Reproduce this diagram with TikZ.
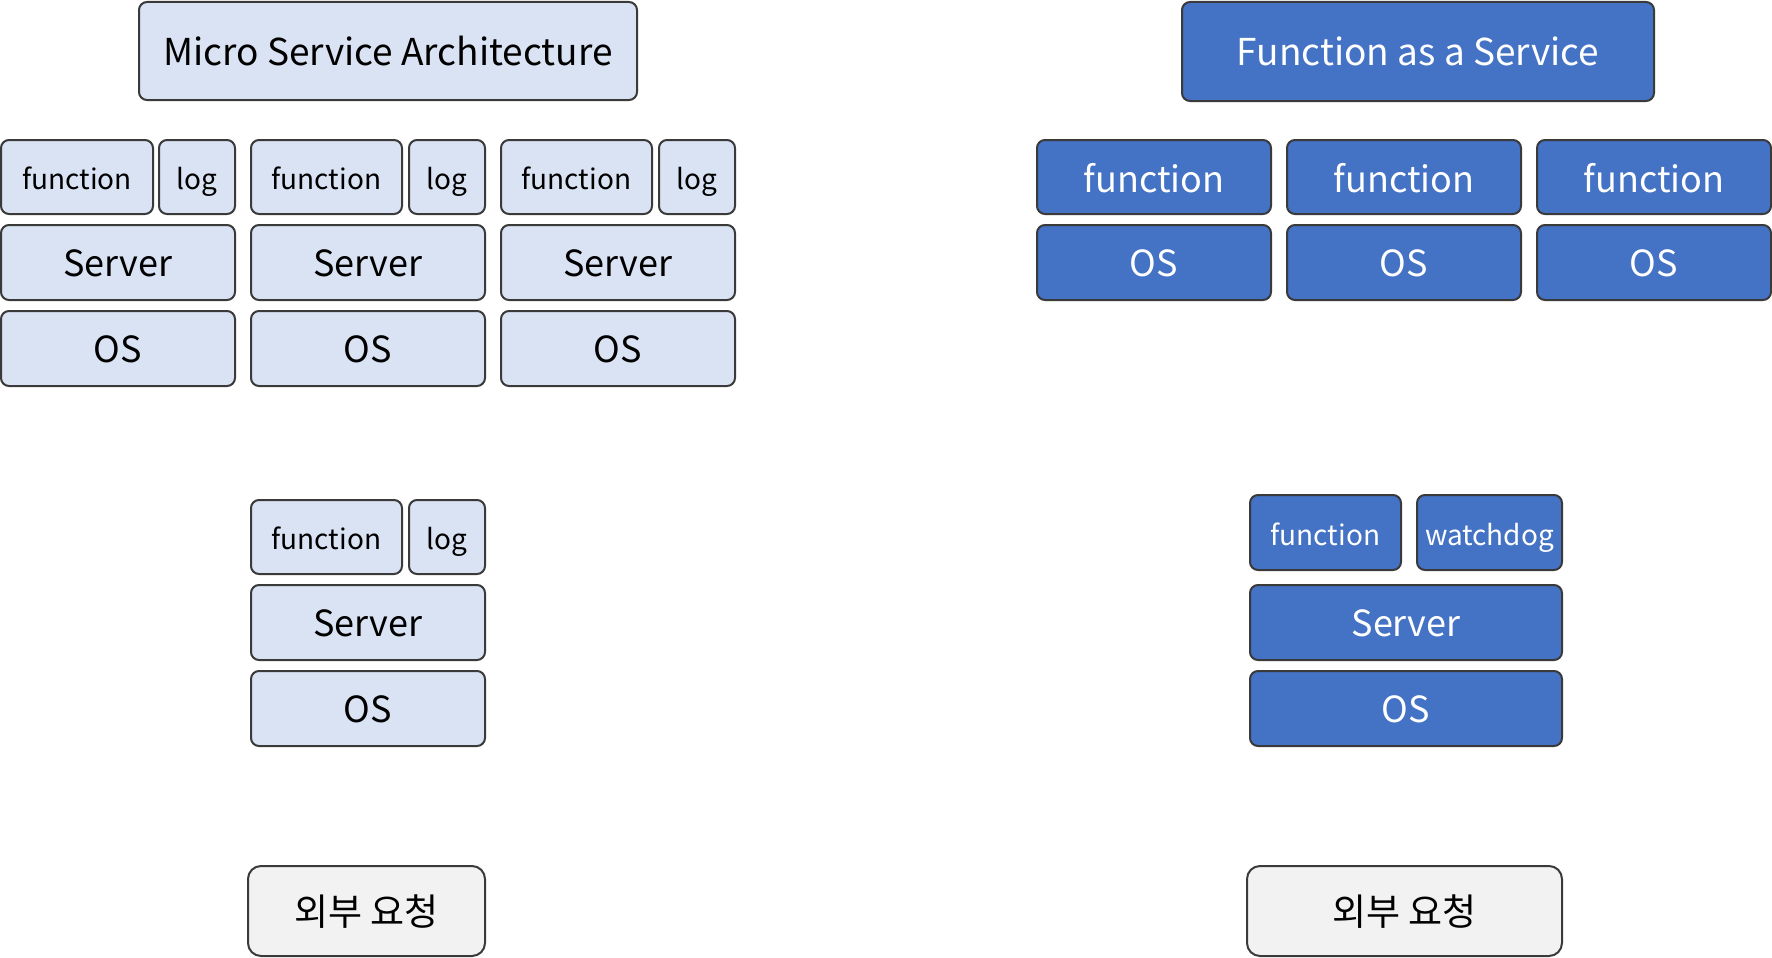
\documentclass[tikz,border=0pt]{standalone}
\usepackage{fontspec}
\setmainfont{Noto Sans CJK KR}
\begin{document}
\begin{tikzpicture}[x=1pt,y=-1pt,
  box/.style={draw=edge,line width=2pt,rounded corners=8pt,inner sep=0pt,outer sep=0pt,
    align=center,text depth=0pt},
  light/.style={box,fill=lightblue,text=black},
  dark/.style={box,fill=darkblue,text=white},
  grey/.style={box,fill=greyfill,text=black,rounded corners=13pt},
  bigtxt/.style={font=\fontsize{36}{38}\selectfont,text height=28.5pt},
  funtxt/.style={font=\fontsize{36}{38}\selectfont,text height=30pt},
  smalltxt/.style={font=\fontsize{28}{30}\selectfont,text height=25pt},
  titletxt/.style={font=\fontsize{37}{39}\selectfont,text height=29pt},
  kortxt/.style={font=\fontsize{37}{39}\selectfont,text height=28pt}]
\definecolor{edge}{HTML}{3A3A3A}
\definecolor{lightblue}{HTML}{DAE3F3}
\definecolor{darkblue}{HTML}{4472C4}
\definecolor{greyfill}{HTML}{F2F2F2}
\useasboundingbox (0,0) rectangle (1772,958);
% box from corner (x1,y1) to corner (x2,y2)
\newcommand\bx[7]{%
  \node[#6,minimum width={(#4-#2)*1pt},minimum height={(#5-#3)*1pt}]
    (#1) at ({(#2+#4)/2},{(#3+#5)/2}) {#7};}

% Micro Service Architecture
\bx{msa}{139}{2}{637}{100}{light,titletxt}{Micro Service Architecture}
\bx{mfa}{1}{140}{153}{214}{light,smalltxt}{function}
\bx{mla}{159}{140}{235}{214}{light,smalltxt}{log}
\bx{msa1}{1}{225}{235}{300}{light,bigtxt}{Server}
\bx{moa}{1}{311}{235}{386}{light,bigtxt}{OS}
\bx{mfb}{251}{140}{402}{214}{light,smalltxt}{function}
\bx{mlb}{409}{140}{485}{214}{light,smalltxt}{log}
\bx{msb}{251}{225}{485}{300}{light,bigtxt}{Server}
\bx{mob}{251}{311}{485}{386}{light,bigtxt}{OS}
\bx{mfc}{501}{140}{652}{214}{light,smalltxt}{function}
\bx{mlc}{659}{140}{735}{214}{light,smalltxt}{log}
\bx{msc}{501}{225}{735}{300}{light,bigtxt}{Server}
\bx{moc}{501}{311}{735}{386}{light,bigtxt}{OS}

\bx{mfd}{251}{500}{402}{574}{light,smalltxt}{function}
\bx{mld}{409}{500}{485}{574}{light,smalltxt}{log}
\bx{msd}{251}{585}{485}{660}{light,bigtxt}{Server}
\bx{mod}{251}{671}{485}{746}{light,bigtxt}{OS}
\bx{mreq}{248}{866}{485}{956}{grey,kortxt}{외부 요청}

% Function as a Service
\bx{faas}{1182}{2}{1654}{101}{dark,titletxt}{Function as a Service}
\bx{ffa}{1037}{140}{1271}{214}{dark,funtxt}{function}
\bx{foa}{1037}{225}{1271}{300}{dark,bigtxt}{OS}
\bx{ffb}{1287}{140}{1521}{214}{dark,funtxt}{function}
\bx{fob}{1287}{225}{1521}{300}{dark,bigtxt}{OS}
\bx{ffc}{1537}{140}{1771}{214}{dark,funtxt}{function}
\bx{foc}{1537}{225}{1771}{300}{dark,bigtxt}{OS}

\bx{ffd}{1250}{495}{1401}{570}{dark,smalltxt}{function}
\bx{fwd}{1417}{495}{1562}{570}{dark,smalltxt}{watchdog}
\bx{fsd}{1250}{585}{1562}{660}{dark,bigtxt}{Server}
\bx{fod}{1250}{671}{1562}{746}{dark,bigtxt}{OS}
\bx{freq}{1247}{866}{1562}{956}{grey,kortxt}{외부 요청}
\end{tikzpicture}
\end{document}
